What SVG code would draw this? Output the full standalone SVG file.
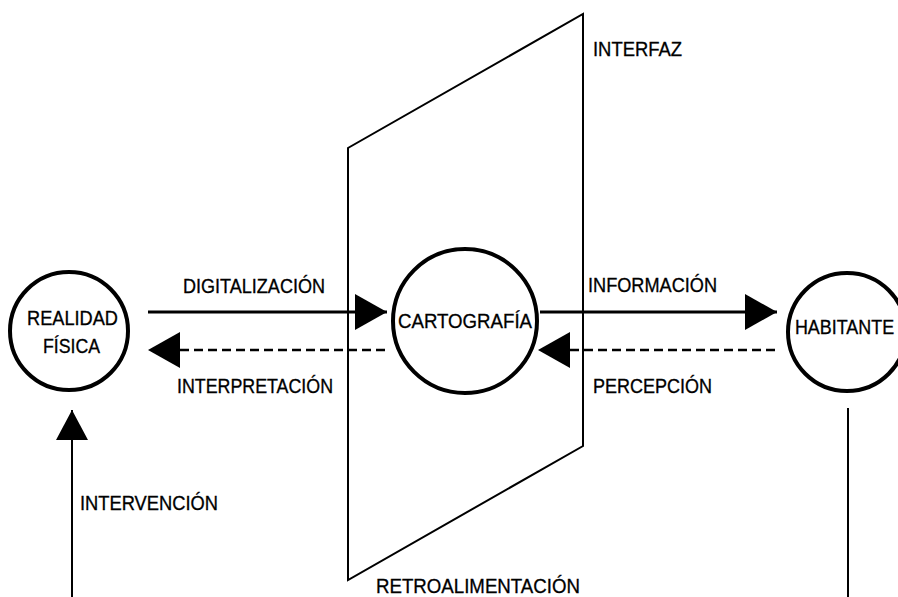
<svg xmlns="http://www.w3.org/2000/svg" width="898" height="597" viewBox="0 0 898 597">
<style>
.node{fill:none;stroke:#000;stroke-width:4}
.lbl{font-family:"Liberation Sans",Arial,sans-serif;font-size:19.5px;fill:#000;stroke:#000;stroke-width:0.3}
.solid{stroke:#000;stroke-width:3;fill:none}
.dash{stroke:#000;stroke-width:2.5;fill:none;stroke-dasharray:9 5}
.thin{stroke:#000;stroke-width:2;fill:none}
</style>
<defs>
<marker id="head" viewBox="0 0 32 36" refX="32" refY="18" markerWidth="32" markerHeight="36" markerUnits="userSpaceOnUse" orient="auto">
<path d="M0,0 L32,18 L0,36 Z" fill="#000"/>
</marker>
<marker id="headv" viewBox="0 0 30 32" refX="30" refY="16" markerWidth="30" markerHeight="32" markerUnits="userSpaceOnUse" orient="auto">
<path d="M0,0 L30,16 L0,32 Z" fill="#000"/>
</marker>
</defs>
<rect width="898" height="597" fill="#fff"/>
<g id="interfaz">
<path class="thin" d="M348,580 L348,148 L583,14 L583,446 Z"/>
<text class="lbl" x="593" y="56" textLength="89" lengthAdjust="spacingAndGlyphs">INTERFAZ</text>
</g>
<g id="connectors">
<path class="solid" d="M148,312 L387,312" marker-end="url(#head)"/>
<path class="dash" d="M385,350 L148,350" marker-end="url(#head)"/>
<path class="solid" d="M540,312 L777,312" marker-end="url(#head)"/>
<path class="dash" d="M775,350 L538,350" marker-end="url(#head)"/>
<path class="thin" d="M72,597 L72,410" marker-end="url(#headv)"/>
<path class="thin" d="M848,408 L848,597"/>
<text class="lbl" x="183" y="293" textLength="142" lengthAdjust="spacingAndGlyphs">DIGITALIZACIÓN</text>
<text class="lbl" x="177" y="393" textLength="156" lengthAdjust="spacingAndGlyphs">INTERPRETACIÓN</text>
<text class="lbl" x="588" y="292" textLength="129" lengthAdjust="spacingAndGlyphs">INFORMACIÓN</text>
<text class="lbl" x="593" y="393" textLength="119" lengthAdjust="spacingAndGlyphs">PERCEPCIÓN</text>
<text class="lbl" x="80" y="510" textLength="138" lengthAdjust="spacingAndGlyphs">INTERVENCIÓN</text>
<text class="lbl" x="376" y="593" textLength="204" lengthAdjust="spacingAndGlyphs">RETROALIMENTACIÓN</text>
</g>
<g id="realidad">
<circle class="node" cx="69" cy="331" r="59"/>
<text class="lbl" x="27" y="325" textLength="91" lengthAdjust="spacingAndGlyphs">REALIDAD</text>
<text class="lbl" x="43" y="353" textLength="57" lengthAdjust="spacingAndGlyphs">FÍSICA</text>
</g>
<g id="cartografia">
<circle class="node" cx="465" cy="321" r="72"/>
<text class="lbl" x="398" y="328" textLength="134" lengthAdjust="spacingAndGlyphs">CARTOGRAFÍA</text>
</g>
<g id="habitante">
<circle class="node" cx="847" cy="332" r="59"/>
<text class="lbl" x="864" y="334" transform="scale(0.92,1)">HABITANTE</text>
</g>
</svg>
